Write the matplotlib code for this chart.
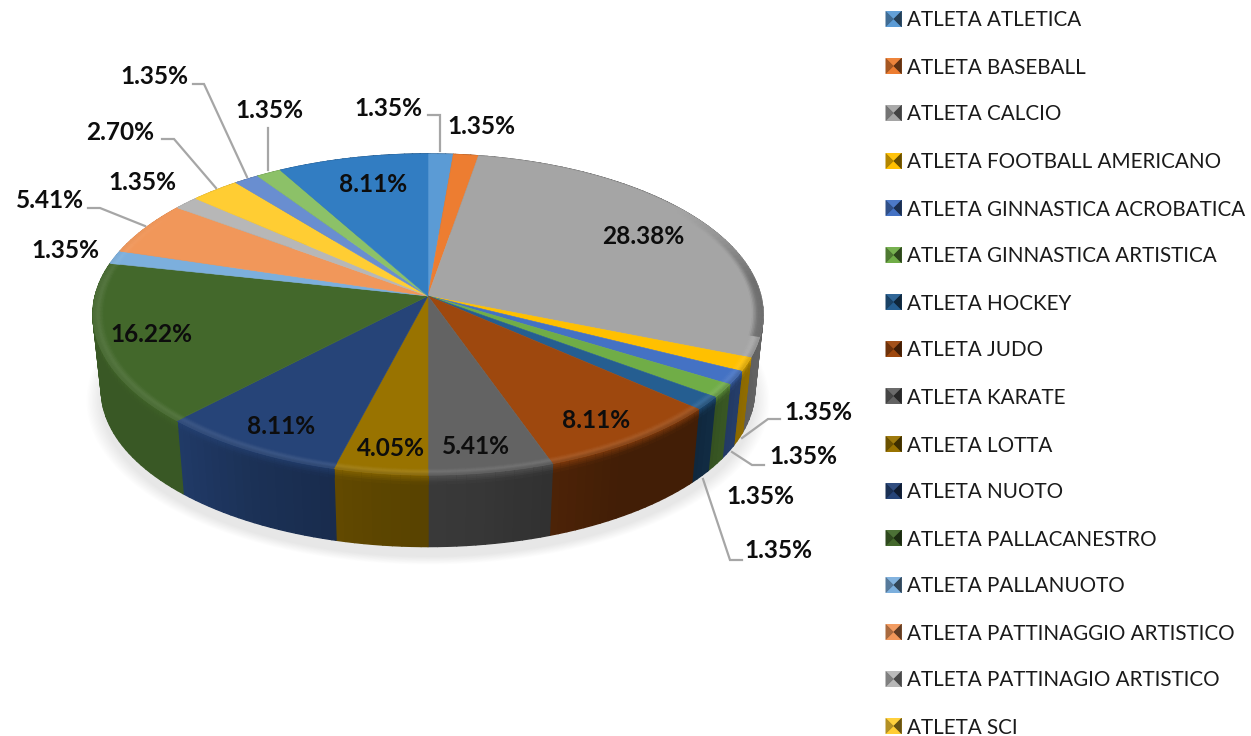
import numpy as np
import matplotlib
matplotlib.use('Agg')
import matplotlib.pyplot as plt
from matplotlib.collections import PolyCollection
from matplotlib.colors import to_rgb
from matplotlib.path import Path
from matplotlib.transforms import Transform

plt.rcParams['font.family'] = ['Lato', 'DejaVu Sans']

legend_names = ['ATLETA ATLETICA', 'ATLETA BASEBALL', 'ATLETA CALCIO', 'ATLETA FOOTBALL AMERICANO',
                'ATLETA GINNASTICA ACROBATICA', 'ATLETA GINNASTICA ARTISTICA', 'ATLETA HOCKEY',
                'ATLETA JUDO', 'ATLETA KARATE', 'ATLETA LOTTA', 'ATLETA NUOTO', 'ATLETA PALLACANESTRO',
                'ATLETA PALLANUOTO', 'ATLETA PATTINAGGIO ARTISTICO', 'ATLETA PATTINAGIO ARTISTICO',
                'ATLETA SCI']
shares = [1.35, 1.35, 28.38, 1.35, 1.35, 1.35, 1.35, 8.11, 5.41, 4.05, 8.11, 16.22,
          1.35, 5.41, 1.35, 2.70, 1.35, 1.35, 8.11]
colors = ['#5B9BD5', '#ED7D31', '#A5A5A5', '#FFC000', '#4472C4', '#70AD47', '#255E91',
          '#9E480E', '#636363', '#997300', '#264478', '#43682B', '#7CAFDD', '#F1975A',
          '#B7B7B7', '#FFCD33', '#698ED0', '#8CC168', '#327DC2']

# where the labels sit, in pixels
label_xy = [(388, 108), (481, 126), (643, 237), (818, 413), (803, 457), (760, 497), (778, 551),
            (596, 420), (476, 447), (391, 449), (281, 427), (151, 335), (65, 250), (50, 200),
            (142, 182), (120, 133), (154, 77), (269, 111), (373, 185)]
leaders = [[(428, 115), (440, 115), (440, 151)],
           [(193, 84), (204, 84), (247, 177)],
           [(268, 128), (268, 170)],
           [(162, 139), (174, 139), (216, 188)],
           [(88, 208), (100, 208), (145, 226)],
           [(780, 419), (768, 419), (742, 438)],
           [(764, 465), (752, 465), (732, 452)],
           [(742, 560), (730, 560), (703, 479)]]
legend_y = [19, 66, 113, 161, 208, 255, 302, 349, 396, 444, 491, 538, 585, 632, 679, 726]


class DiskTransform(Transform):
    """ unit disk -> tilted pie on the page, apex is not the ellipse centre """
    input_dims = 2
    output_dims = 2

    def __init__(self, drop=0.0, shrink=1.0, grow=1.0):
        super().__init__()
        self.drop = drop
        self.shrink = shrink
        self.grow = grow

    def transform_non_affine(self, xy):
        xy = np.asarray(xy, dtype=float)
        w = 1 + 0.1153 * xy[:, 1]
        px = 428 + self.grow * self.shrink * 332.8 * xy[:, 0] / w
        py = 296 + self.drop - self.grow * self.shrink * 158.4 * xy[:, 1] / w
        return np.column_stack([px, py])

    def transform_path_non_affine(self, path):
        return Path(self.transform_non_affine(path.vertices), path.codes)


def mix(a, b, t):
    return tuple((1 - t) * np.array(a) + t * np.array(b))


def wall_factor(px):
    return np.interp(px, [93, 180, 250, 380, 490, 620, 700, 763],
                     [0.85, 0.85, 0.72, 0.6, 0.55, 0.42, 0.42, 0.6])


fig = plt.figure(figsize=(12.51, 7.36), dpi=100)
ax = fig.add_axes([0, 0, 1, 1])
wedges, _ = ax.pie(shares, colors=colors, startangle=90, counterclock=False,
                   wedgeprops={'linewidth': 0.4})
for w, c in zip(wedges, colors):
    w.set_edgecolor(c)
    w.set_transform(DiskTransform() + ax.transData)
    w.set_zorder(3)
ax.set_aspect('auto')
ax.set_xlim(0, 1251)
ax.set_ylim(736, 0)
ax.axis('off')

# soft shadow under the disk
theta = np.radians(np.linspace(0, 360, 241))
ring = np.column_stack([np.cos(theta), np.sin(theta)])
for i in range(12):
    shadow = DiskTransform(drop=86, shrink=0.975, grow=1.045 - i * 0.004).transform(ring)
    ax.fill(shadow[:, 0], shadow[:, 1], color='#808080', alpha=0.016, lw=0, zorder=1)

# side wall and rounded lip, cut in small pieces so the shading runs along the rim
top = DiskTransform()
bottom = DiskTransform(drop=76, shrink=0.975)
wall_polys, wall_cols, lip_polys, lip_cols = [], [], [], []
for w, c in zip(wedges, colors):
    c = to_rgb(c)
    a = np.radians(np.arange(w.theta1, w.theta2 + 1.5, 1.5).clip(w.theta1, w.theta2))
    for a0, a1 in zip(a[:-1], a[1:]):
        p = np.array([[np.cos(a0), np.sin(a0)], [np.cos(a1), np.sin(a1)]])
        t = top.transform(p)
        b = bottom.transform(p)
        f = wall_factor(t[:, 0].mean())
        dark = mix((0, 0, 0), c, f)
        wall_polys.append([t[0], t[1], b[1], b[0]])
        wall_cols.append(dark)
        # the first bit of the wall still catches light
        edge = mix(c, dark, 0.35)
        for s in range(5):
            z0, z1 = s * 0.025, (s + 1) * 0.025
            wall_polys.append([t[0] + (b[0] - t[0]) * z0, t[1] + (b[1] - t[1]) * z0,
                               t[1] + (b[1] - t[1]) * z1, t[0] + (b[0] - t[0]) * z1])
            wall_cols.append(mix(edge, dark, (s + 0.5) / 5))
        # rolled edge of the top face, fades out towards the back
        strength = np.clip((0.6 - p[:, 1].mean()) / 0.5, 0, 1)
        if strength == 0:
            continue
        toward_right = np.clip((t[:, 0].mean() - 640) / 100, 0, 1) * (p[:, 1].mean() > -0.25)
        light = mix(mix(c, (1, 1, 1), 0.1), mix(c, (0, 0, 0), 0.3), toward_right)
        light = mix(c, light, strength)
        outer = mix(c, mix(light, dark, 0.35), strength)
        rings = [(0.968, 0.985, c, light), (0.985, 1.0, light, outer)]
        for r0, r1, c0, c1 in rings:
            for s in range(4):
                q0, q1 = r0 + (r1 - r0) * s / 4, r0 + (r1 - r0) * (s + 1) / 4
                lip_polys.append([top.transform(p * q0)[0], top.transform(p * q0)[1],
                                  top.transform(p * q1)[1], top.transform(p * q1)[0]])
                lip_cols.append(mix(c0, c1, (s + 0.5) / 4))
ax.add_collection(PolyCollection(wall_polys, facecolors=wall_cols, edgecolors=wall_cols,
                                 linewidths=1.0, zorder=2))
ax.add_collection(PolyCollection(lip_polys, facecolors=lip_cols, edgecolors=lip_cols,
                                 linewidths=0.5, zorder=4))

for pts in leaders:
    pts = np.array(pts)
    ax.plot(pts[:, 0], pts[:, 1], color='#A6A6A6', lw=1.6, zorder=5, solid_joinstyle='miter')

for (x, y), v in zip(label_xy, shares):
    ax.text(x, y, '%.2f%%' % v, ha='center', va='center', fontsize=17.6, fontweight='bold',
            color='#0D0D0D', zorder=6)

# legend keys are little bevelled squares
for name, y, c in zip(legend_names, legend_y, colors):
    c = to_rgb(c)
    x0, x1, y0, y1 = 885.5, 901.5, y - 8, y + 8
    cx, cy = (x0 + x1) / 2, (y0 + y1) / 2
    ax.fill([x0, x1, x1, x0], [y0, y0, y1, y1], color=mix((0, 0, 0), c, 0.6), lw=0, zorder=3)
    ax.fill([x0, x1, cx], [y0, y0, cy], color=mix(c, (1, 1, 1), 0.05), lw=0, zorder=3)
    ax.fill([x0, x1, cx], [y1, y1, cy], color=c, lw=0, zorder=3)
    ax.fill([x0, x0, cx], [y0, y1, cy], color=mix((0, 0, 0), c, 0.7), lw=0, zorder=3)
    ax.fill([x1, x1, cx], [y0, y1, cy], color=mix((0, 0, 0), c, 0.4), lw=0, zorder=3)
    ax.text(907, y + 1.5, name, ha='left', va='center', fontsize=14.9, color='#1A1A1A', zorder=6)

fig.savefig('out.png', dpi=100)
